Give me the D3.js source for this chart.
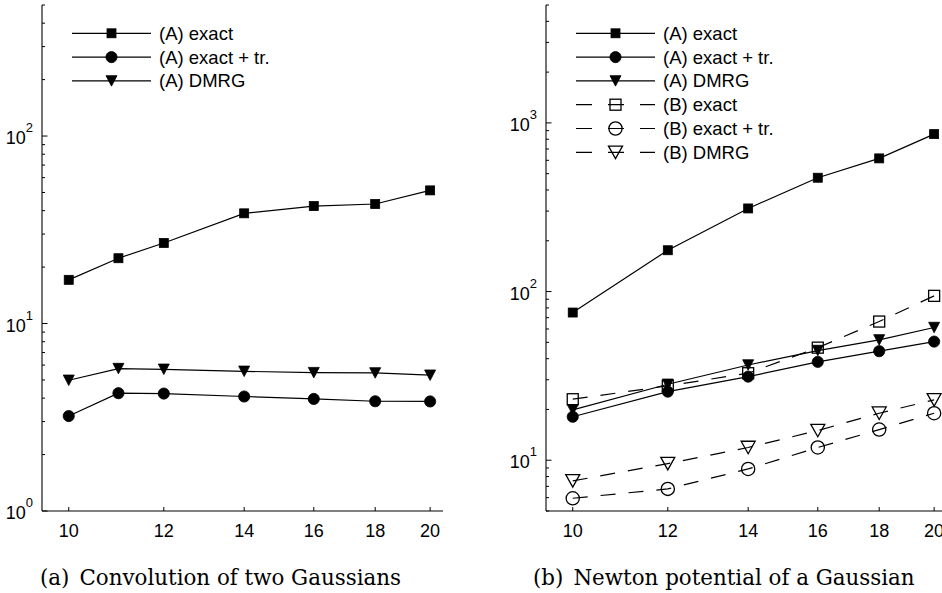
<!DOCTYPE html>
<html>
<head>
<meta charset="utf-8">
<script src="https://cdn.jsdelivr.net/npm/d3@7/dist/d3.min.js"></script>
<style>
  body { margin: 0; background: #fff; }
  svg { display: block; }
  .tick-label { font-family: 'Liberation Sans', Arial, sans-serif; font-size: 18px; fill: #000; }
  .legend-label { font-family: 'Liberation Sans', Arial, sans-serif; font-size: 18.5px; fill: #000; }
  .caption { font-family: 'DejaVu Serif', serif; font-size: 21.4px; fill: #000; }
</style>
</head>
<body>
<div id="chart"></div>
<script>
// panel (a): convolution of two Gaussians
const nA = [10, 11, 12, 14, 16, 18, 20];
const aExact = [17.1, 22.3, 26.9, 38.7, 42.3, 43.4, 51.3];
const aExactTr = [3.21, 4.25, 4.23, 4.08, 3.96, 3.85, 3.84];
const aDmrg = [4.98, 5.75, 5.70, 5.56, 5.47, 5.45, 5.30];

// panel (b): Newton potential of a Gaussian
const nB = [10, 12, 14, 16, 18, 20];
const bAExact = [75.1, 175.8, 311, 473, 616, 858];
const bAExactTr = [18.1, 25.5, 31.3, 38.3, 44.3, 50.5];
const bADmrg = [19.9, 28.2, 36.7, 44.7, 51.7, 61.2];
const bBExact = [23.0, 27.6, 32.8, 46.5, 66.4, 94.3];
const bBExactTr = [5.95, 6.76, 8.88, 11.9, 15.2, 19.0];
const bBDmrg = [7.54, 9.55, 11.9, 15.0, 19.0, 22.8];

const xTicks = [10, 12, 14, 16, 18, 20];
const xDomain = [9.5, 20.5];

const W = 942;
const H = 593;

const svg = d3.select('#chart').append('svg')
  .attr('width', W)
  .attr('height', H);

// marker shapes, drawn centred on (0,0)
function drawMarker(g, kind, filled) {
  const fill = filled ? '#000' : 'none';
  if (kind === 'square') {
    const s = filled ? 9 : 11;
    g.append('rect')
      .attr('x', -s / 2).attr('y', -s / 2)
      .attr('width', s).attr('height', s)
      .attr('fill', fill).attr('stroke', '#000').attr('stroke-width', filled ? 0.8 : 1.3);
  } else if (kind === 'circle') {
    g.append('circle')
      .attr('r', filled ? 5.6 : 6.6)
      .attr('fill', fill).attr('stroke', '#000').attr('stroke-width', filled ? 0.8 : 1.3);
  } else {
    const w = filled ? 11 : 14;
    const h = filled ? 10.5 : 12.5;
    g.append('path')
      .attr('d', 'M' + (-w / 2) + ',' + (-h / 2) + 'L' + (w / 2) + ',' + (-h / 2) + 'L0,' + (h / 2) + 'Z')
      .attr('fill', fill).attr('stroke', '#000').attr('stroke-width', filled ? 0.8 : 1.3)
      .attr('stroke-linejoin', 'miter');
  }
}

function drawPanel(opt) {
  const x = d3.scaleLog().domain(xDomain).range([opt.left, opt.left + 401]);
  const y = d3.scaleLog().domain(opt.yDomain).range([511, 5]);
  const g = svg.append('g');

  // y axis line and log ticks
  g.append('line')
    .attr('x1', opt.left).attr('x2', opt.left)
    .attr('y1', y.range()[1]).attr('y2', y.range()[0])
    .attr('stroke', '#000').attr('stroke-width', 1.1);

  const lo = Math.log10(opt.yDomain[0]);
  const hi = Math.log10(opt.yDomain[1]);
  const minor = [];
  for (let e = Math.floor(lo); e <= Math.ceil(hi); e++) {
    for (let m = 1; m <= 9; m++) {
      const v = m * Math.pow(10, e);
      if (v >= opt.yDomain[0] - 1e-9 && v <= opt.yDomain[1] + 1e-9) minor.push({ v: v, major: m === 1 });
    }
  }
  g.selectAll('.ytick').data(minor).enter().append('line')
    .attr('x1', opt.left)
    .attr('x2', d => opt.left + (d.major ? 5.5 : 3))
    .attr('y1', d => y(d.v)).attr('y2', d => y(d.v))
    .attr('stroke', '#000').attr('stroke-width', 1);

  // y labels 10^k
  opt.yLabels.forEach(function (k) {
    const t = g.append('text')
      .attr('class', 'tick-label')
      .attr('x', opt.left - 9)
      .attr('y', y(Math.pow(10, k)) + 8)
      .attr('text-anchor', 'end');
    t.append('tspan').text('10');
    t.append('tspan')
      .attr('dy', -12)
      .attr('font-size', '13px')
      .text(k);
  });

  // x axis line and ticks
  g.append('line')
    .attr('x1', opt.left).attr('x2', opt.left + 401)
    .attr('y1', 511).attr('y2', 511)
    .attr('stroke', '#000').attr('stroke-width', 1.1);
  g.selectAll('.xtick').data(xTicks).enter().append('line')
    .attr('x1', d => x(d)).attr('x2', d => x(d))
    .attr('y1', 511).attr('y2', 507)
    .attr('stroke', '#000').attr('stroke-width', 1);
  g.selectAll('.xlabel').data(xTicks).enter().append('text')
    .attr('class', 'tick-label')
    .attr('x', d => x(d))
    .attr('y', 537)
    .attr('text-anchor', 'middle')
    .text(d => d);

  // series
  const line = d3.line().x(d => x(d[0])).y(d => y(d[1]));
  opt.series.forEach(function (s) {
    const pts = opt.n.map((v, i) => [v, s.values[i]]);
    g.append('path')
      .datum(pts)
      .attr('d', line)
      .attr('fill', 'none')
      .attr('stroke', '#000')
      .attr('stroke-width', 1.2)
      .attr('stroke-dasharray', s.dashed ? '15,13' : null);
    pts.forEach(function (p) {
      const m = g.append('g').attr('transform', 'translate(' + x(p[0]) + ',' + y(p[1]) + ')');
      drawMarker(m, s.marker, s.filled);
    });
  });

  // legend
  opt.series.forEach(function (s, i) {
    const ly = 33.3 + i * 23.8;
    const lx = opt.left + 30;
    g.append('line')
      .attr('x1', lx).attr('x2', lx + 79)
      .attr('y1', ly).attr('y2', ly)
      .attr('stroke', '#000')
      .attr('stroke-width', 1.2)
      .attr('stroke-dasharray', s.dashed ? '16,16' : null);
    const m = g.append('g').attr('transform', 'translate(' + (lx + 39.5) + ',' + ly + ')');
    drawMarker(m, s.marker, s.filled);
    g.append('text')
      .attr('class', 'legend-label')
      .attr('x', lx + 87)
      .attr('y', ly + 6.5)
      .text(s.name);
  });

  // caption
  const c = svg.append('text')
    .attr('class', 'caption')
    .attr('x', opt.capX)
    .attr('y', 585);
  c.append('tspan').text(opt.capTag);
  c.append('tspan').attr('dx', 10).text(opt.capText);
}

drawPanel({
  left: 42,
  yDomain: [1, 500],
  yLabels: [0, 1, 2],
  n: nA,
  series: [
    { name: '(A) exact', values: aExact, marker: 'square', filled: true, dashed: false },
    { name: '(A) exact + tr.', values: aExactTr, marker: 'circle', filled: true, dashed: false },
    { name: '(A) DMRG', values: aDmrg, marker: 'triangle', filled: true, dashed: false }
  ],
  capX: 40,
  capTag: '(a)',
  capText: 'Convolution of two Gaussians'
});

drawPanel({
  left: 546,
  yDomain: [5, 5000],
  yLabels: [1, 2, 3],
  n: nB,
  series: [
    { name: '(A) exact', values: bAExact, marker: 'square', filled: true, dashed: false },
    { name: '(A) exact + tr.', values: bAExactTr, marker: 'circle', filled: true, dashed: false },
    { name: '(A) DMRG', values: bADmrg, marker: 'triangle', filled: true, dashed: false },
    { name: '(B) exact', values: bBExact, marker: 'square', filled: false, dashed: true },
    { name: '(B) exact + tr.', values: bBExactTr, marker: 'circle', filled: false, dashed: true },
    { name: '(B) DMRG', values: bBDmrg, marker: 'triangle', filled: false, dashed: true }
  ],
  capX: 533,
  capTag: '(b)',
  capText: 'Newton potential of a Gaussian'
});
</script>
</body>
</html>
